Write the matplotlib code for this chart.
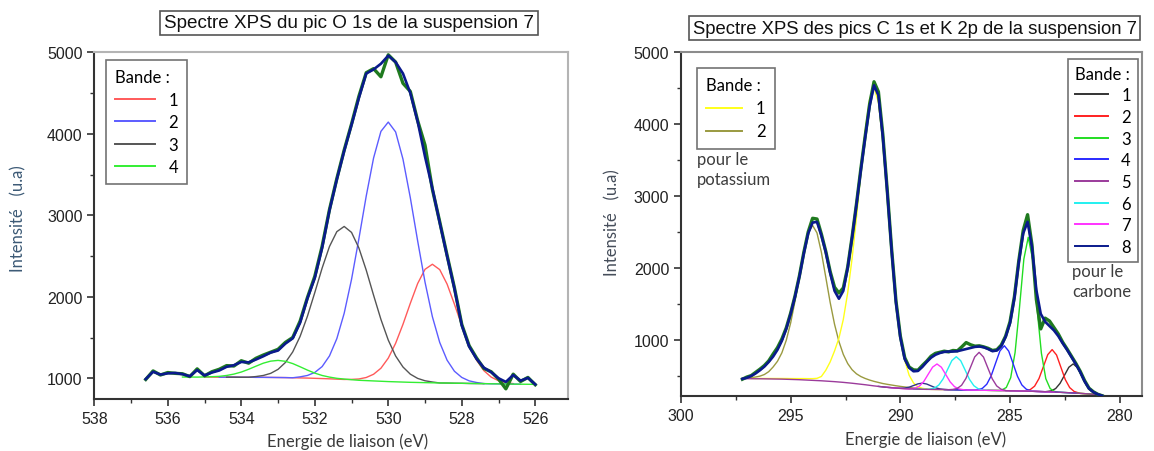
import numpy as np
import matplotlib
matplotlib.use('Agg')
import matplotlib.pyplot as plt
from matplotlib.lines import Line2D
from matplotlib.ticker import MultipleLocator

plt.rcParams['font.family'] = ['Liberation Sans', 'DejaVu Sans']

# ---------------- O 1s spectrum (left panel) ----------------
o1s_energy = np.linspace(536.6, 526.0, 54)
o1s_measured = [985, 1090, 1040, 1070, 1060, 1055, 1020, 1115, 1030, 1080,
                1110, 1155, 1150, 1215, 1185, 1245, 1285, 1320, 1355, 1440,
                1500, 1700, 1990, 2250, 2620, 3070, 3450, 3800, 4120, 4460,
                4750, 4800, 4700, 4970, 4880, 4620, 4520, 4160, 3860, 3320,
                2920, 2510, 2110, 1660, 1400, 1250, 1120, 1080, 990, 870,
                1050, 960, 1010, 920]
o1s_envelope = [990, 1080, 1045, 1060, 1065, 1050, 1025, 1100, 1035, 1070,
                1095, 1140, 1160, 1200, 1195, 1230, 1270, 1315, 1340, 1425,
                1490, 1680, 1980, 2230, 2600, 3060, 3440, 3790, 4110, 4440,
                4740, 4790, 4860, 4960, 4880, 4740, 4500, 4150, 3720, 3330,
                2910, 2500, 2100, 1650, 1390, 1240, 1130, 1075, 1000, 955,
                1040, 970, 1005, 925]
o1s_baseline = [1015, 1015, 1015, 1015, 1015, 1015, 1015, 1014, 1014, 1014,
                1013, 1013, 1013, 1012, 1012, 1011, 1011, 1010, 1009, 1008,
                1006, 1004, 1002, 999, 996, 993, 989, 985, 980, 975,
                971, 967, 963, 959, 956, 953, 950, 948, 946, 944,
                942, 941, 939, 938, 936, 935, 934, 932, 931, 930,
                928, 927, 926, 925]

# fitted bands
o1s_band1_e = np.linspace(531.0, 526.6, 23)
o1s_band1 = [986, 991, 1009, 1049, 1123, 1247, 1429, 1662, 1920, 2163, 2337, 2399,
             2333, 2156, 1909, 1647, 1409, 1223, 1094, 1014, 969, 946, 934]
o1s_band2_e = np.linspace(532.4, 527.6, 25)
o1s_band2 = [1017, 1034, 1071, 1143, 1274, 1486, 1797, 2213, 2711, 3236, 3703, 4030,
             4144, 4023, 3689, 3215, 2684, 2179, 1756, 1439, 1222, 1086, 1010, 968, 948]
o1s_band3_e = np.linspace(533.6, 528.8, 25)
o1s_band3 = [1021, 1034, 1060, 1109, 1193, 1323, 1513, 1761, 2051, 2352, 2617, 2799,
             2863, 2790, 2599, 2327, 2019, 1722, 1468, 1273, 1138, 1050, 998, 969, 954]
o1s_band4_e = np.linspace(535.0, 531.0, 21)
o1s_band4 = [1016, 1019, 1023, 1034, 1051, 1076, 1110, 1148, 1185, 1210, 1219,
             1208, 1180, 1141, 1100, 1063, 1034, 1014, 999, 990, 982]

# ---------------- C 1s / K 2p spectrum (right panel) ----------------
c1s_energy = np.linspace(297.2, 280.8, 83)
c1s_measured = [450, 480, 500, 545, 590, 640, 705, 800, 890, 1010,
                1165, 1370, 1610, 1890, 2215, 2500, 2690, 2680, 2470, 2230,
                1950, 1730, 1650, 1720, 2010, 2430, 2890, 3380, 3840, 4280,
                4590, 4450, 3860, 3090, 2270, 1540, 1050, 750, 620, 580,
                575, 640, 700, 770, 810, 825, 840, 830, 850, 845,
                900, 960, 930, 910, 915, 900, 880, 850, 860, 925,
                1050, 1250, 1600, 2100, 2520, 2740, 2320, 1560, 1150, 1300,
                1260, 1170, 1080, 965, 870, 770, 670, 560, 430, 325,
                275, 240, 220]
c1s_envelope = [455, 470, 495, 530, 575, 625, 690, 765, 860, 985,
                1150, 1360, 1600, 1880, 2200, 2480, 2630, 2640, 2450, 2220,
                1930, 1680, 1570, 1680, 2000, 2420, 2880, 3360, 3820, 4250,
                4540, 4400, 3830, 3070, 2250, 1520, 1030, 730, 610, 560,
                565, 620, 690, 750, 790, 815, 830, 835, 835, 840,
                855, 870, 885, 900, 905, 895, 870, 840, 850, 910,
                1040, 1230, 1580, 2080, 2480, 2640, 2290, 1690, 1360, 1250,
                1190, 1130, 1050, 950, 860, 760, 660, 550, 420, 320,
                270, 240, 220]
c1s_baseline = [458, 457, 457, 456, 456, 455, 454, 453, 452, 451,
                449, 447, 445, 443, 440, 437, 434, 431, 428, 424,
                420, 416, 411, 406, 400, 394, 387, 380, 373, 365,
                357, 350, 343, 337, 332, 327, 322, 318, 315, 313,
                311, 310, 309, 308, 307, 306, 305, 304, 303, 302,
                301, 300, 299, 298, 297, 296, 295, 294, 293, 292,
                290, 289, 288, 286, 285, 283, 282, 280, 278, 276,
                274, 272, 269, 266, 263, 260, 257, 253, 249, 245,
                240, 233, 223]

# potassium bands
k2p_band1_e = np.linspace(296.8, 288.8, 41)
k2p_band1 = [460, 460, 460, 460, 460, 460, 460, 460, 460, 459, 459, 459, 459, 458, 458,
             462, 488, 574, 690, 843, 1021, 1282, 1653, 2129, 2703, 3327, 3917, 4349,
             4507, 4305, 3767, 3030, 2258, 1576, 1061, 712, 506, 398, 345, 324, 314]
k2p_band2_e = np.linspace(297.2, 288.8, 43)
k2p_band2 = [462, 466, 472, 480, 493, 515, 555, 620, 700, 818, 992, 1234, 1540, 1890,
             2229, 2492, 2590, 2486, 2217, 1871, 1520, 1215, 975, 795, 668, 582, 525,
             487, 460, 438, 420, 405, 390, 379, 369, 359, 350, 342, 335, 328, 322, 317, 313]
k2p_small_e = np.linspace(290.0, 288.0, 11)
k2p_small = [325, 327, 339, 362, 385, 395, 383, 357, 331, 315, 308]

# carbon bands
c1s_band1_e = np.linspace(283.32, 280.92, 13)
c1s_band1 = [279, 288, 320, 392, 504, 616, 663, 609, 490, 371, 292, 252, 233]
c1s_band2_e = np.linspace(284.28, 281.88, 13)
c1s_band2 = [289, 305, 353, 459, 625, 792, 862, 787, 615, 444, 333, 280, 260]
c1s_band3_e = np.linspace(285.37, 282.97, 13)
c1s_band3 = [300, 335, 471, 822, 1443, 2122, 2426, 2119, 1437, 812, 458, 319, 280]
c1s_band4_e = np.linspace(286.46, 284.06, 13)
c1s_band4 = [304, 323, 380, 497, 672, 844, 916, 841, 667, 490, 370, 311, 289]
c1s_band5_e = np.linspace(287.61, 285.21, 13)
c1s_band5 = [308, 321, 365, 461, 610, 760, 824, 758, 606, 455, 357, 311, 295]
c1s_band6_e = np.linspace(288.65, 286.25, 13)
c1s_band6 = [313, 327, 368, 455, 584, 710, 763, 708, 580, 449, 360, 317, 301]
c1s_band7_e = np.linspace(289.53, 287.13, 13)
c1s_band7 = [317, 325, 354, 419, 519, 618, 662, 617, 515, 413, 346, 315, 304]


def on_baseline(e, i, base_e, base_i, hi, lo):
    """Extend a fitted band along the background between hi and lo."""
    base_e = np.asarray(base_e)
    base_i = np.asarray(base_i)
    e = np.asarray(e)
    keep = ((base_e <= hi + 1e-6) & (base_e > e.max() + 1e-6)) | \
           ((base_e >= lo - 1e-6) & (base_e < e.min() - 1e-6))
    ee = np.concatenate([base_e[keep], e])
    ii = np.concatenate([base_i[keep], np.asarray(i)])
    order = np.argsort(-ee)
    return ee[order], ii[order]


fig = plt.figure(figsize=(11.54, 4.52), dpi=100)
ax1 = fig.add_axes([0.0817, 0.1150, 0.4108, 0.7670])
ax2 = fig.add_axes([0.5901, 0.1210, 0.3992, 0.7611])

label_font = dict(family='Lato', size=12)

# ---- left panel ----
o1s_colors = ['#ff5a5a', '#5c5cff', '#555555', '#33ee33']
o1s_bands = [(o1s_band1_e, o1s_band1, 535.0, 526.8),
             (o1s_band2_e, o1s_band2, 534.6, 526.4),
             (o1s_band3_e, o1s_band3, 534.4, 527.4),
             (o1s_band4_e, o1s_band4, 535.6, 526.0)]
for (e, i, hi, lo), col in zip(o1s_bands, o1s_colors):
    ee, ii = on_baseline(e, i, o1s_energy, o1s_baseline, hi, lo)
    ax1.plot(ee, ii, color=col, lw=1.0, zorder=2)
ax1.plot(o1s_energy, o1s_measured, color='#1f7a1f', lw=2.4, zorder=3)
ax1.plot(o1s_energy, o1s_envelope, color='#0a1a8c', lw=1.9, zorder=4)

ax1.set_xlim(538, 525.1)
ax1.set_ylim(745, 5000)
ax1.xaxis.set_major_locator(MultipleLocator(2))
ax1.xaxis.set_minor_locator(MultipleLocator(1))
ax1.yaxis.set_major_locator(MultipleLocator(1000))
ax1.yaxis.set_minor_locator(MultipleLocator(500))

handles = [Line2D([], [], color=c, lw=1.4) for c in o1s_colors]
leg = ax1.legend(handles, ['1', '2', '3', '4'], title='Bande :', loc='upper left',
                 bbox_to_anchor=(0.0247, 0.978), frameon=True, fancybox=False,
                 edgecolor='#505050', prop=label_font, title_fontproperties=label_font,
                 alignment='left', handlelength=2.4, handletextpad=0.8,
                 labelspacing=0.39, borderpad=0.55, borderaxespad=0)
leg.get_frame().set_linewidth(1.2)

# ---- right panel ----
k_colors = ['#ffff1a', '#9a9a40']
ee, ii = on_baseline(k2p_band2_e, k2p_band2, c1s_energy, c1s_baseline, 297.2, 288.8)
ax2.plot(ee, ii, color=k_colors[1], lw=1.0, zorder=2)
ee, ii = on_baseline(k2p_band1_e, k2p_band1, c1s_energy, c1s_baseline, 296.8, 284.6)
ax2.plot(ee, ii, color=k_colors[0], lw=1.0, zorder=2)
ee, ii = on_baseline(k2p_small_e, k2p_small, c1s_energy, c1s_baseline, 291.0, 287.0)
ax2.plot(ee, ii, color='#34348a', lw=1.0, zorder=2)

c_colors = ['#333333', '#ff2020', '#22dd22', '#2a2aff', '#9b3b9b', '#22f0f0', '#ff33ff', '#0a1a8c']
c_bands = [(c1s_band1_e, c1s_band1, 285.0, 280.8),
           (c1s_band2_e, c1s_band2, 286.0, 280.8),
           (c1s_band3_e, c1s_band3, 287.0, 281.0),
           (c1s_band4_e, c1s_band4, 288.0, 282.0),
           (c1s_band6_e, c1s_band6, 289.4, 284.0),
           (c1s_band7_e, c1s_band7, 290.6, 283.0),
           (c1s_band5_e, c1s_band5, 297.2, 280.8)]
c_band_colors = [c_colors[0], c_colors[1], c_colors[2], c_colors[3], c_colors[5], c_colors[6], c_colors[4]]
for (e, i, hi, lo), col in zip(c_bands, c_band_colors):
    ee, ii = on_baseline(e, i, c1s_energy, c1s_baseline, hi, lo)
    ax2.plot(ee, ii, color=col, lw=1.0, zorder=2)
ax2.plot(c1s_energy, c1s_measured, color='#1f7a1f', lw=2.4, zorder=3)
ax2.plot(c1s_energy, c1s_envelope, color=c_colors[7], lw=1.9, zorder=4)

ax2.set_xlim(300, 279)
ax2.set_ylim(212, 5000)
ax2.xaxis.set_major_locator(MultipleLocator(5))
ax2.xaxis.set_minor_locator(MultipleLocator(2.5))
ax2.yaxis.set_major_locator(MultipleLocator(1000))
ax2.yaxis.set_minor_locator(MultipleLocator(500))

handles = [Line2D([], [], color=c, lw=1.4) for c in k_colors]
leg_k = ax2.legend(handles, ['1', '2'], title='Bande :', loc='upper left',
                   bbox_to_anchor=(0.034, 0.9535), frameon=True, fancybox=False,
                   edgecolor='#505050', prop=label_font, title_fontproperties=label_font,
                   alignment='left', handlelength=2.2, handletextpad=0.8,
                   labelspacing=0.42, borderpad=0.55, borderaxespad=0)
leg_k.get_frame().set_linewidth(1.2)
ax2.add_artist(leg_k)

handles = [Line2D([], [], color=c, lw=1.4) for c in c_colors]
leg_c = ax2.legend(handles, [str(n) for n in range(1, 9)], title='Bande :', loc='upper right',
                   bbox_to_anchor=(0.991, 0.9805), frameon=True, fancybox=False,
                   edgecolor='#505050', prop=label_font, title_fontproperties=label_font,
                   alignment='left', handlelength=2.0, handletextpad=0.8,
                   labelspacing=0.34, borderpad=0.4, borderaxespad=0)
leg_c.get_frame().set_linewidth(1.2)

ax2.text(0.0347, 0.713, 'pour le\npotassium', transform=ax2.transAxes, ha='left', va='top',
         color='#3d3d3d', linespacing=1.3, **label_font)
ax2.text(0.849, 0.3875, 'pour le\ncarbone', transform=ax2.transAxes, ha='left', va='top',
         color='#3d3d3d', linespacing=1.3, **label_font)

# ---- common axes styling ----
for ax, edge in [(ax1, '#b4b4b4'), (ax2, '#8c8c8c')]:
    for side in ['left', 'bottom']:
        ax.spines[side].set_color('#333333')
        ax.spines[side].set_linewidth(1.5)
    for side in ['top', 'right']:
        ax.spines[side].set_color(edge)
        ax.spines[side].set_linewidth(1.5)
    ax.tick_params(which='major', direction='out', length=5, width=1.2, color='#333333',
                   labelsize=11.5, labelcolor='#222222', top=False, right=False)
    ax.tick_params(which='minor', direction='out', length=3, width=1.0, color='#333333',
                   top=False, right=False)

# axis titles
fig.text(0.3016, 0.0228, 'Energie de liaison (eV)', ha='center', va='center',
         color='#3a3a3a', family='Lato', size=12)
fig.text(0.8024, 0.0265, 'Energie de liaison (eV)', ha='center', va='center',
         color='#3a3a3a', family='Lato', size=12)
fig.text(0.0156, 0.5155, 'Intensité   (u.a)', ha='center', va='center', rotation=90,
         color='#3c5a76', family='Lato', size=12)
fig.text(0.5308, 0.5077, 'Intensité   (u.a)', ha='center', va='center', rotation=90,
         color='#454d5a', family='Lato', size=12)

# boxed chart titles
box = dict(boxstyle='square,pad=0.2', fc='white', ec='#555555', lw=1.2)
fig.text(349 / 1154, 1 - 24 / 452, 'Spectre XPS du pic O 1s de la suspension 7',
         ha='center', va='center', size=13.6, color='#111111', bbox=box)
fig.text(914.6 / 1154, 1 - 29 / 452, 'Spectre XPS des pics C 1s et K 2p de la suspension 7',
         ha='center', va='center', size=13.3, color='#111111', bbox=box)

fig.savefig('out.png', dpi=100)
